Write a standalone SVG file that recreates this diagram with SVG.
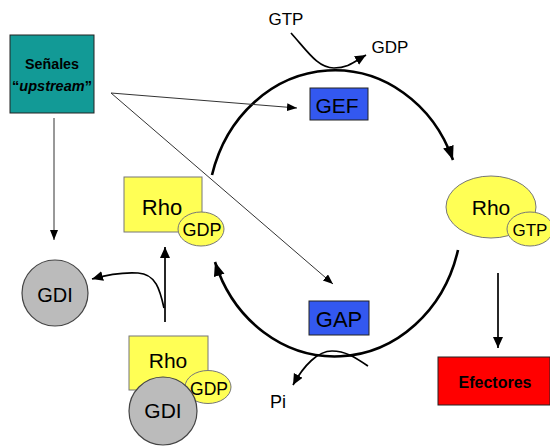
<svg xmlns="http://www.w3.org/2000/svg" width="550" height="446" viewBox="0 0 550 446">
<style>
text{font-family:"Liberation Sans",Arial,sans-serif;fill:#000;text-anchor:middle}
.yel{fill:#ffff55;stroke:#777;stroke-width:1}
.gdi{fill:#bbbbbb;stroke:#444;stroke-width:1.2}
.blue{fill:#3358f0;stroke:#222;stroke-width:1}
.cyc{fill:none;stroke:#000;stroke-width:2.6}
.med{fill:none;stroke:#000;stroke-width:1.7}
.thin{fill:none;stroke:#333;stroke-width:1}
</style>
<defs>
<marker id="big" markerUnits="userSpaceOnUse" markerWidth="15" markerHeight="12" refX="14" refY="5.5" orient="auto"><path d="M0,0 L14,5.5 L0,11 z" fill="#000"/></marker>
<marker id="mid" markerUnits="userSpaceOnUse" markerWidth="12" markerHeight="11" refX="11" refY="5" orient="auto"><path d="M0,0 L11,5 L0,10 z" fill="#000"/></marker>
<marker id="sm" markerUnits="userSpaceOnUse" markerWidth="11" markerHeight="9" refX="10" refY="4" orient="auto"><path d="M0,0 L10,4 L0,8 z" fill="#000"/></marker>
</defs>

<g id="connectors">
<path class="cyc" d="M212 175 A127 141 0 0 1 453 160" marker-end="url(#big)"/>
<path class="cyc" d="M458 250 A127 141 0 0 1 215 262" marker-end="url(#big)"/>
<path class="med" d="M291 33 C308 52 318 68 334 68 C348 68 354 62 366 55" marker-end="url(#mid)"/>
<path class="med" d="M368 366 C356 358 346 351 332 351 C318 351 304 365 293 385" marker-end="url(#mid)"/>
<path class="thin" d="M111 93 L297 108" marker-end="url(#sm)"/>
<path class="thin" d="M111 93 L333 284" marker-end="url(#sm)"/>
<path class="thin" d="M54 118 L54 240" marker-end="url(#sm)"/>
<path class="med" d="M165 322 L165 247" marker-end="url(#mid)"/>
<path class="med" d="M164 308 C160 290 156 274 138 273 C122 272 106 275 92 279" marker-end="url(#mid)"/>
<path class="med" d="M498 273 L498 348" marker-end="url(#mid)"/>
</g>

<g id="senales">
<rect x="10" y="35" width="84" height="78" fill="#129a96" stroke="#222" stroke-width="1"/>
<text x="52" y="69" font-size="14.3" font-weight="bold">Señales</text>
<text x="52" y="91" font-size="14.5" font-weight="bold">“<tspan font-style="italic">upstream</tspan>”</text>
</g>

<g id="gtp-label"><text x="286" y="25" font-size="17">GTP</text></g>
<g id="gdp-label"><text x="390" y="53" font-size="17">GDP</text></g>

<g id="gef">
<rect class="blue" x="310" y="88" width="58" height="32"/>
<text x="337" y="113" font-size="21">GEF</text>
</g>

<g id="gap">
<rect class="blue" x="309" y="301" width="60" height="34"/>
<text x="339" y="327" font-size="22">GAP</text>
</g>

<g id="pi-label"><text x="278" y="408" font-size="18">Pi</text></g>

<g id="rho-gdp">
<rect class="yel" x="124" y="177" width="78" height="55"/>
<text x="162" y="215" font-size="22">Rho</text>
<ellipse class="yel" cx="201" cy="229" rx="23" ry="17"/>
<text x="202" y="236" font-size="18">GDP</text>
</g>

<g id="rho-gtp">
<ellipse class="yel" cx="491" cy="207" rx="45" ry="31"/>
<text x="491" y="215" font-size="21">Rho</text>
<ellipse class="yel" cx="530" cy="229" rx="23" ry="17"/>
<text x="530" y="236" font-size="17">GTP</text>
</g>

<g id="gdi">
<circle class="gdi" cx="55" cy="293" r="33"/>
<text x="55" y="302" font-size="20">GDI</text>
</g>

<g id="rho-gdp-gdi">
<rect class="yel" x="129" y="336" width="79" height="54"/>
<text x="168" y="368" font-size="21">Rho</text>
<ellipse class="yel" cx="208" cy="387" rx="23" ry="16.5"/>
<text x="209" y="395" font-size="17.5">GDP</text>
<circle class="gdi" cx="163" cy="411" r="34"/>
<text x="163" y="418" font-size="21">GDI</text>
</g>

<g id="efectores">
<rect x="438" y="357" width="112" height="48" fill="#ff0000" stroke="#222" stroke-width="1"/>
<text x="495" y="388" font-size="16" font-weight="bold">Efectores</text>
</g>
</svg>
